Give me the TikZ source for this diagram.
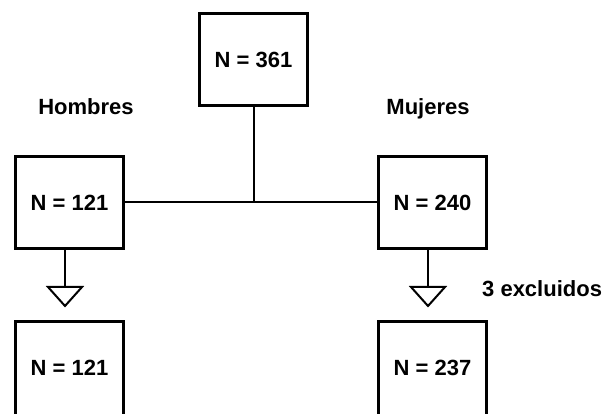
\documentclass[tikz,border=0pt]{standalone}
\usepackage{fontspec}
\setmainfont{Liberation Sans}
\begin{document}
\begin{tikzpicture}[x=1pt,y=-1pt,
  box/.style={draw, line width=3pt, minimum width=108pt, minimum height=92pt,
    inner sep=0pt, font=\fontsize{22}{26}\selectfont\bfseries},
  endbox/.style={box, minimum height=100pt},
  grouplabel/.style={anchor=base, inner sep=0pt, font=\fontsize{22}{26}\selectfont\bfseries},
  link/.style={line width=2pt},
  funnel/.style={line width=2pt, line join=miter},
]
\useasboundingbox (0,0) rectangle (608,414);
\clip (0,0) rectangle (608,414);

% boxes
\node[box] (total) at (253.5,59.5) {N = 361};
\node[box] (hmid) at (69.5,202.5) {N = 121};
\node[box] (mmid) at (432.5,202.5) {N = 240};
\node[endbox] (hend) at (69.5,371.5) {\raisebox{8pt}{N = 121}};
\node[endbox] (mend) at (432.5,371.5) {\raisebox{8pt}{N = 237}};

% group labels
\node[grouplabel] (hlab) at (86,115) {Hombres};
\node[grouplabel] (mlab) at (428,115) {Mujeres};
\node[grouplabel, anchor=base west] (excl) at (482,296) {3 excluidos};

% split of the total into the two groups
\coordinate (split) at (total.south |- hmid.east);
\draw[link] (total.south) -- (split);
\draw[link] (hmid.east) -- (mmid.west);

% funnels toward the final samples
\coordinate (hfun) at (65,287);
\coordinate (mfun) at (428,287);
\draw[link] (hfun |- hmid.south) -- (hfun);
\draw[link] (mfun |- mmid.south) -- (mfun);
\draw[funnel] (hfun) ++(-17,0) -- ++(34,0) -- ++(-17,19) -- cycle;
\draw[funnel] (mfun) ++(-17,0) -- ++(34,0) -- ++(-17,19) -- cycle;
\end{tikzpicture}
\end{document}
